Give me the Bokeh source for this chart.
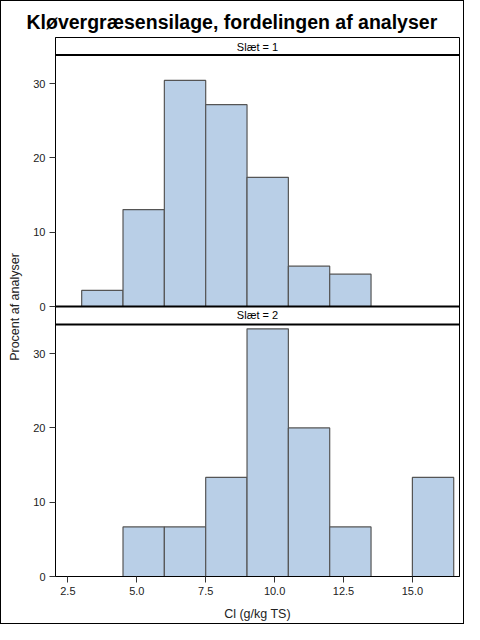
from bokeh.plotting import figure
from bokeh.models import Range1d, FixedTicker, CustomJSTickFormatter, PrintfTickFormatter, Span, Label
from bokeh.embed import file_html
from bokeh.resources import INLINE

# ---- data ----
bin_edges = [3.0, 4.5, 6.0, 7.5, 9.0, 10.5, 12.0, 13.5, 15.0, 16.5]
slaet1_pct = [2.17, 13.04, 30.43, 27.17, 17.39, 5.43, 4.35, 0.0, 0.0]
slaet2_pct = [0.0, 6.67, 6.67, 13.33, 33.33, 20.0, 6.67, 0.0, 13.33]
panel_labels = ["Slæt = 1", "Slæt = 2"]
y_ticks = [0, 10, 20, 30]
x_ticks = [2.5, 5.0, 7.5, 10.0, 12.5, 15.0]
title = "Kløvergræsensilage, fordelingen af analyser"
x_label = "Cl (g/kg TS)"
y_label = "Procent af analyser"

# ---- layout (pixels) ----
FONT = "Liberation Sans"
PPU = 7.43            # pixels per percent unit
FRAME_H = 539
PANEL_H = 252
STRIP_H = 18
P1_ZERO = PANEL_H + STRIP_H      # px from frame bottom where panel 1 zero sits
total_u = FRAME_H / PPU
p1_off = P1_ZERO / PPU

p = figure(width=464, height=624, output_backend="svg", toolbar_location=None,
           x_range=Range1d(2.05, 16.71), y_range=Range1d(0, total_u),
           min_border_left=54, min_border_right=6, min_border_top=36, min_border_bottom=49)
p.extra_y_ranges = {"p1": Range1d(-p1_off, total_u - p1_off)}
p.styles = {"border": "1px solid black", "box-sizing": "border-box"}

p.title.text = title
p.title.text_font = FONT
p.title.text_font_size = "19.5px"
p.title.text_font_style = "bold"
p.title.text_color = "black"
p.title.align = "left"
p.title.offset = -29
p.title.standoff = 10

p.xgrid.visible = False
p.ygrid.visible = False
p.outline_line_color = "black"
p.outline_line_width = 1
p.background_fill_color = "white"
p.border_fill_color = "white"

fill = "#B9CFE7"
edge = "#555555"
p.quad(left=bin_edges[:-1], right=bin_edges[1:], bottom=0, top=slaet1_pct,
       y_range_name="p1", fill_color=fill, line_color=edge, line_width=1.2)
p.quad(left=bin_edges[:-1], right=bin_edges[1:], bottom=0, top=slaet2_pct,
       fill_color=fill, line_color=edge, line_width=1.2)

# panel separators
for px in (PANEL_H, P1_ZERO, FRAME_H - STRIP_H + 0.5):
    p.add_layout(Span(location=px / PPU, dimension="width", line_color="black", line_width=2))

xc = (p.x_range.start + p.x_range.end) / 2
for lab, mid_px in zip(panel_labels, (FRAME_H - STRIP_H / 2, PANEL_H + STRIP_H / 2 + 0.5)):
    p.add_layout(Label(x=xc, y=mid_px / PPU, text=lab, text_align="center", text_baseline="middle",
                       text_font=FONT, text_font_size="11px", text_color="black"))

# y axis
yt = [t + p1_off for t in y_ticks] + list(y_ticks)
p.yaxis.ticker = FixedTicker(ticks=yt)
p.yaxis.formatter = CustomJSTickFormatter(args=dict(off=p1_off), code="""
    const v = tick >= off - 0.5 ? tick - off : tick;
    return Math.round(v).toString();
""")
p.yaxis.axis_label = y_label
for ax in (p.xaxis[0], p.yaxis[0]):
    ax.major_tick_out = 6
    ax.major_tick_in = 0
    ax.minor_tick_out = 0
    ax.minor_tick_in = 0
    ax.major_tick_line_color = "#333333"
    ax.axis_line_color = "black"
    ax.major_label_text_font = FONT
    ax.major_label_text_font_size = "11px"
    ax.major_label_text_color = "#222222"
    ax.axis_label_text_font = FONT
    ax.axis_label_text_font_size = "12.5px"
    ax.axis_label_text_font_style = "normal"
    ax.axis_label_text_color = "#222222"
    ax.major_label_standoff = 4
p.yaxis.axis_label_standoff = 8

p.xaxis.ticker = FixedTicker(ticks=x_ticks)
p.xaxis.formatter = PrintfTickFormatter(format="%.1f")
p.xaxis.axis_label = x_label
p.xaxis.axis_label_standoff = 9

open("out.html", "w").write(file_html(p, INLINE))
